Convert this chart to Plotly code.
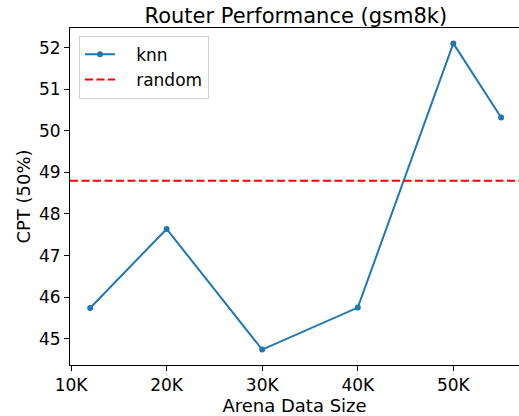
import plotly.graph_objects as go

data_sizes = [12000, 20000, 30000, 40000, 50000, 55000]
knn_cpt = [45.74, 47.64, 44.74, 45.75, 52.1, 50.32]
random_cpt = 48.8
x_tick_vals = [10000, 20000, 30000, 40000, 50000]
x_tick_text = ["10K", "20K", "30K", "40K", "50K"]
y_tick_vals = [45, 46, 47, 48, 49, 50, 51, 52]

FONT = "DejaVu Sans"
NB = "\u00a0\u00a0\u00a0"
fig = go.Figure()
fig.add_trace(go.Scatter(
    x=data_sizes, y=knn_cpt, mode="lines+markers", name=NB + "knn", legendgroup="a",
    line=dict(color="#1f77b4", width=2),
    marker=dict(color="#1f77b4", size=6),
))
fig.add_hline(y=random_cpt, line=dict(color="red", width=2, dash="8px,3.5px"),
              showlegend=True, name=NB + "random", legendgroup="b", layer="above")

fig.update_layout(
    width=519, height=416,
    margin=dict(l=70, r=0, t=28, b=51, autoexpand=False),
    paper_bgcolor="white", plot_bgcolor="white",
    font=dict(family=FONT, size=17, color="black"),
    title=dict(text="Router Performance (gsm8k)", font=dict(size=21, color="black", family=FONT),
               x=0.503, xref="paper", xanchor="center", y=1, yref="paper", yanchor="bottom",
               pad=dict(b=5)),
    showlegend=True,
    legend=dict(x=0.02, y=0.977, xanchor="left", yanchor="top",
                bgcolor="rgba(255,255,255,0.8)", bordercolor="#d0d0d0", borderwidth=1,
                font=dict(size=17, family=FONT), tracegroupgap=0),
    xaxis=dict(range=[9890, 56870], tickvals=x_tick_vals, ticktext=x_tick_text, automargin=False,
               showgrid=False, zeroline=False, showline=True, linecolor="black", linewidth=1,
               mirror=True, ticks="outside", ticklen=5, tickcolor="black",
               title=dict(text="Arena Data Size", font=dict(size=18), standoff=4),
               tickfont=dict(size=17)),
    yaxis=dict(range=[44.37, 52.47], tickvals=y_tick_vals, automargin=False,
               showgrid=False, zeroline=False, showline=True, linecolor="black", linewidth=1,
               mirror=False, ticks="outside", ticklen=5, tickcolor="black",
               title=dict(text="CPT (50%)", font=dict(size=18), standoff=3),
               tickfont=dict(size=17)),
)
fig.write_html("out.html", config={"displayModeBar": False},
               post_script="document.body.style.margin='0px';document.body.style.overflow='hidden';")
